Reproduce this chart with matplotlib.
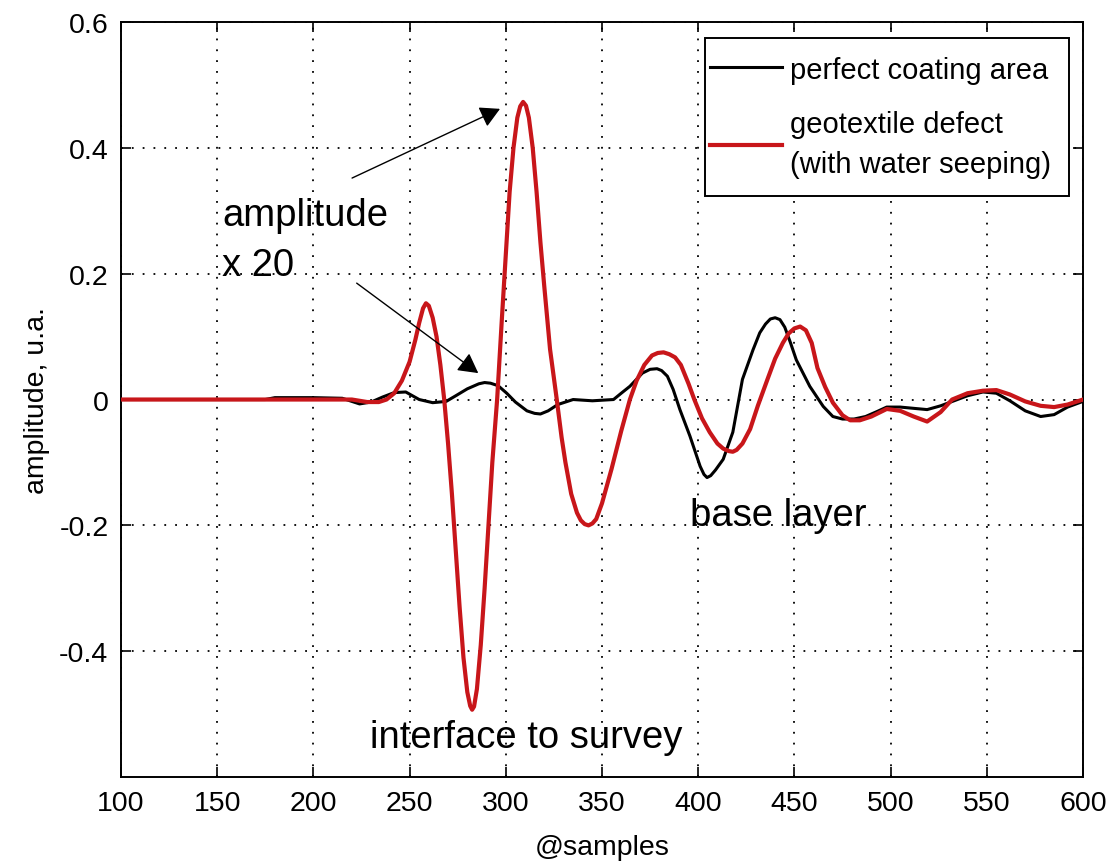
import matplotlib
matplotlib.use("Agg")
import matplotlib.pyplot as plt
from matplotlib.legend_handler import HandlerLine2D

plt.rcParams['font.family'] = ['Liberation Sans', 'DejaVu Sans']

# ---- data ----
red_x = [100, 150, 200, 220, 228, 234, 238, 242, 246, 250, 253, 255, 257, 258.5, 260, 262, 264,
         266, 268, 270, 272, 274, 276, 278, 280, 281.5, 282.5, 283.5, 285, 287, 289, 291, 293,
         295.5, 298, 300, 302, 304, 306, 307.5, 309, 310.5, 312, 314, 316, 318, 320, 323, 326.5,
         329, 331, 334, 337, 339, 341, 343, 345, 347, 350, 355, 360, 364.5, 368, 372, 376, 379,
         382, 385, 388, 391, 395, 398, 402, 406, 410, 413, 416, 418, 420, 423, 427, 431, 436,
         440, 444, 447, 450, 453, 456, 459, 462, 466, 470, 475, 479, 484, 490, 498, 505, 512,
         519, 526, 532, 540, 548, 555, 562, 570, 578, 585, 592, 600]
red_y = [0, 0, 0, 0, -0.004, -0.004, 0.0, 0.01, 0.03, 0.06, 0.095, 0.122, 0.145, 0.153, 0.149,
         0.13, 0.1, 0.055, 0.0, -0.07, -0.15, -0.24, -0.33, -0.41, -0.465, -0.487, -0.493, -0.488,
         -0.46, -0.39, -0.3, -0.2, -0.1, 0.0, 0.13, 0.23, 0.33, 0.4, 0.448, 0.466, 0.473, 0.467,
         0.448, 0.4, 0.33, 0.25, 0.18, 0.08, 0.0, -0.06, -0.1, -0.15, -0.18, -0.192, -0.198,
         -0.2, -0.197, -0.19, -0.165, -0.11, -0.05, 0.0, 0.03, 0.055, 0.07, 0.074, 0.075, 0.072,
         0.067, 0.055, 0.025, 0.0, -0.03, -0.052, -0.07, -0.078, -0.082, -0.083, -0.08, -0.07,
         -0.047, -0.01, 0.032, 0.065, 0.09, 0.105, 0.113, 0.116, 0.11, 0.09, 0.05, 0.02, -0.005,
         -0.025, -0.033, -0.033, -0.027, -0.015, -0.018, -0.027, -0.035, -0.02, 0.0, 0.01, 0.014,
         0.015, 0.008, -0.003, -0.01, -0.012, -0.008, 0.0]

black_x = [100, 175, 180, 200, 215, 220, 224, 230, 236, 242, 248, 255, 262, 269, 274, 280,
           286, 289, 292, 296, 300.5, 305, 311, 315, 318, 322, 327, 335, 345, 356, 360, 364.5,
           371, 375, 378.6, 381, 384, 387, 390.5, 395.7, 401, 403, 404.6, 406.5, 409, 413, 418,
           423, 428.5, 432, 435, 437.5, 440, 442.5, 445, 448, 451, 458, 465, 470, 475, 481, 487,
           493, 498, 505, 512, 519, 526, 533, 540, 548, 555, 562, 570, 578, 585, 592, 600]
black_y = [0, 0, 0.003, 0.003, 0.002, -0.003, -0.007, -0.004, 0.004, 0.011, 0.012, 0.0,
           -0.005, -0.003, 0.006, 0.017, 0.025, 0.027, 0.026, 0.022, 0.01, -0.004, -0.018,
           -0.022, -0.023, -0.018, -0.008, 0.0, -0.002, 0.0, 0.01, 0.021, 0.042, 0.048, 0.049,
           0.046, 0.037, 0.016, -0.016, -0.058, -0.106, -0.119, -0.124, -0.121, -0.112, -0.095,
           -0.052, 0.032, 0.079, 0.106, 0.12, 0.128, 0.13, 0.127, 0.115, 0.09, 0.063, 0.021,
           -0.011, -0.027, -0.031, -0.031, -0.027, -0.019, -0.012, -0.012, -0.014, -0.016, -0.01,
           -0.002, 0.006, 0.012, 0.01, -0.002, -0.018, -0.027, -0.024, -0.012, -0.003]

legend_labels = ['perfect coating area', 'geotextile defect\n(with water seeping)']
x_ticks = [100, 150, 200, 250, 300, 350, 400, 450, 500, 550, 600]
y_ticks = [-0.4, -0.2, 0, 0.2, 0.4, 0.6]
y_tick_labels = ['-0.4', '-0.2', '0', '0.2', '0.4', '0.6']

RED = '#c8161a'


class ShiftedLineHandler(HandlerLine2D):
    """Legend line that starts a little left of its handle box (MATLAB-like legend)."""
    SHIFT = 9.4  # points

    def create_artists(self, legend, orig_handle, xdescent, ydescent, width, height,
                       fontsize, trans):
        return super().create_artists(legend, orig_handle, xdescent + self.SHIFT, ydescent,
                                      width + self.SHIFT, height, fontsize, trans)


fig = plt.figure(figsize=(11.07, 8.62), dpi=100)
ax = fig.add_axes([0.1093, 0.0974, 0.8690, 0.8759])

l1, = ax.plot(black_x, black_y, color='black', lw=2.2, label=legend_labels[0], zorder=3,
              solid_joinstyle='round')
l2, = ax.plot(red_x, red_y, color=RED, lw=3.0, label=legend_labels[1], zorder=4,
              solid_joinstyle='round')

ax.set_xlim(100, 600)
ax.set_ylim(-0.6, 0.6)
ax.set_xticks(x_ticks)
ax.set_yticks(y_ticks)
ax.set_yticklabels(y_tick_labels)
ax.tick_params(direction='in', length=7, width=1.2, labelsize=20.5, pad=9,
               top=True, right=True, colors='black')
for s in ax.spines.values():
    s.set_linewidth(1.4)
ax.grid(True, color='black', linestyle=(0, (1, 5)), linewidth=1.3)
ax.set_axisbelow(True)

ax.set_xlabel('@samples', fontsize=20.5, labelpad=13)
ax.set_ylabel('amplitude, u.a.', fontsize=20.5, labelpad=7)

# annotations
ax.text(152.5, 0.278, 'amplitude', fontsize=27.5, ha='left', va='baseline', zorder=6)
ax.text(152.5, 0.198, 'x 20', fontsize=27.5, ha='left', va='baseline', zorder=6)
ax.text(229.4, -0.552, 'interface to survey', fontsize=27.5, ha='left', va='baseline', zorder=6)
ax.text(395.7, -0.2, 'base layer', fontsize=27.5, ha='left', va='baseline', zorder=6)

arrow_style = dict(arrowstyle='-|>,head_length=0.55,head_width=0.3', color='black',
                   lw=1.0, mutation_scale=22, shrinkA=0, shrinkB=0)
ax.annotate('', xy=(297, 0.462), xytext=(220.1, 0.352), arrowprops=arrow_style, zorder=7)
ax.annotate('', xy=(285.7, 0.042), xytext=(222.5, 0.185), arrowprops=arrow_style, zorder=7)

handler = ShiftedLineHandler()
leg = ax.legend(handles=[l1, l2], labels=legend_labels,
                handler_map={l1: handler, l2: handler},
                loc='upper right', bbox_to_anchor=(0.9854, 0.9788), borderaxespad=0,
                fontsize=21, handlelength=2.02, handletextpad=0.3, borderpad=0.6,
                labelspacing=0.92, fancybox=False, framealpha=1, edgecolor='black')
for t in leg.get_texts():
    t.set_linespacing(1.55)
leg.get_frame().set_linewidth(1.4)
leg.set_zorder(10)

fig.savefig('out.png', dpi=100, facecolor='white')
